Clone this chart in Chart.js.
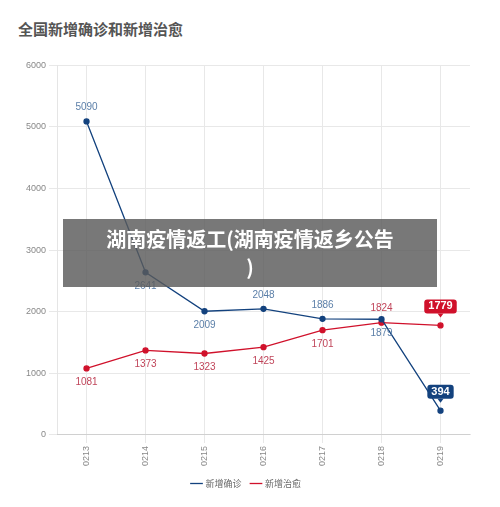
<!DOCTYPE html>
<html>
<head>
<meta charset="utf-8">
<script src="https://cdn.jsdelivr.net/npm/chart.js@4"></script>
<style>
body { margin:0; background:#fff; font-family:"Noto Sans CJK SC", sans-serif; }
#title { position:absolute; left:18px; top:18px; font-size:15px; font-weight:bold; color:#555; }
#wrap { position:absolute; left:0; top:57px; width:500px; height:441px; }
#banner { position:absolute; left:63px; top:219px; width:374px; height:68px; background:rgba(90,90,90,0.82);
  color:#fff; font-size:20px; font-weight:bold; text-align:center; line-height:28px; padding-top:6px; box-sizing:border-box; }
</style>
</head>
<body>
<div id="title">全国新增确诊和新增治愈</div>
<div id="wrap"><canvas id="c"></canvas></div>
<div id="banner">湖南疫情返工(湖南疫情返乡公告<br>)</div>
<script>
var days = ["0213","0214","0215","0216","0217","0218","0219"];
var confirmed = [5090, 2641, 2009, 2048, 1886, 1879, 394];
var cured = [1081, 1373, 1323, 1425, 1701, 1824, 1779];

// label placement: -1 above, 1 below, 0 boxed
var bluePos = [-1, 1, 1, -1, -1, 1, 0];
var redPos = [1, 1, 1, 1, 1, -1, 0];

var labelPlugin = {
  id: "labels",
  afterDatasetsDraw: function(chart) {
    var ctx = chart.ctx;
    ctx.save();
    ctx.font = "10px 'Liberation Sans', sans-serif";
    ctx.textAlign = "center";
    ctx.textBaseline = "middle";
    chart.data.datasets.forEach(function(ds, di) {
      var pos = di == 0 ? bluePos : redPos;
      var col = di == 0 ? "#13427e" : "#d0112b";
      var txtCol = di == 0 ? "#5b7fa8" : "#c0455a";
      chart.getDatasetMeta(di).data.forEach(function(pt, i) {
        var v = String(ds.data[i]);
        if (pos[i] == 0) {
          ctx.font = "bold 11px 'Liberation Sans', sans-serif";
          var w = ctx.measureText(v).width + 8;
          var y = pt.y - 19;
          ctx.fillStyle = col;
          ctx.beginPath();
          ctx.roundRect(pt.x - w / 2, y - 7, w, 14, 3);
          ctx.fill();
          ctx.beginPath();
          ctx.moveTo(pt.x - 3, y + 7); ctx.lineTo(pt.x + 3, y + 7); ctx.lineTo(pt.x, y + 11);
          ctx.fill();
          ctx.fillStyle = "#fff";
          ctx.fillText(v, pt.x, y);
          ctx.font = "10px 'Liberation Sans', sans-serif";
        } else {
          ctx.fillStyle = txtCol;
          ctx.fillText(v, pt.x, pt.y + pos[i] * 14);
        }
      });
    });
    ctx.restore();
  }
};

new Chart("c", {
  type: "line",
  data: {
    labels: days,
    datasets: [
      { label: "新增确诊", data: confirmed, borderColor: "#13427e", backgroundColor: "#13427e",
        borderWidth: 1.3, pointRadius: 2.5, fill: false },
      { label: "新增治愈", data: cured, borderColor: "#d0112b", backgroundColor: "#d0112b",
        borderWidth: 1.3, pointRadius: 2.5, fill: false }
    ]
  },
  options: {
    responsive: true,
    maintainAspectRatio: false,
    animation: false,
    layout: { padding: { left: 23, right: 30, top: 4, bottom: 0 } },
    plugins: {
      legend: { position: "bottom", labels: { usePointStyle: true, pointStyle: "line", boxWidth: 20,
        font: { size: 9, family: "Noto Sans CJK SC" }, color: "#666" } },
      tooltip: { enabled: false }
    },
    scales: {
      x: { offset: true, grid: { color: "#e8e8e8" },
        ticks: { maxRotation: 90, minRotation: 90, font: { size: 9 }, color: "#888" } },
      y: { min: 0, max: 6000, ticks: { stepSize: 1000, font: { size: 9 }, color: "#888",
          callback: function(v) { return String(v); } },
        grid: { color: "#e8e8e8" } }
    }
  },
  plugins: [labelPlugin]
});
</script>
</body>
</html>
